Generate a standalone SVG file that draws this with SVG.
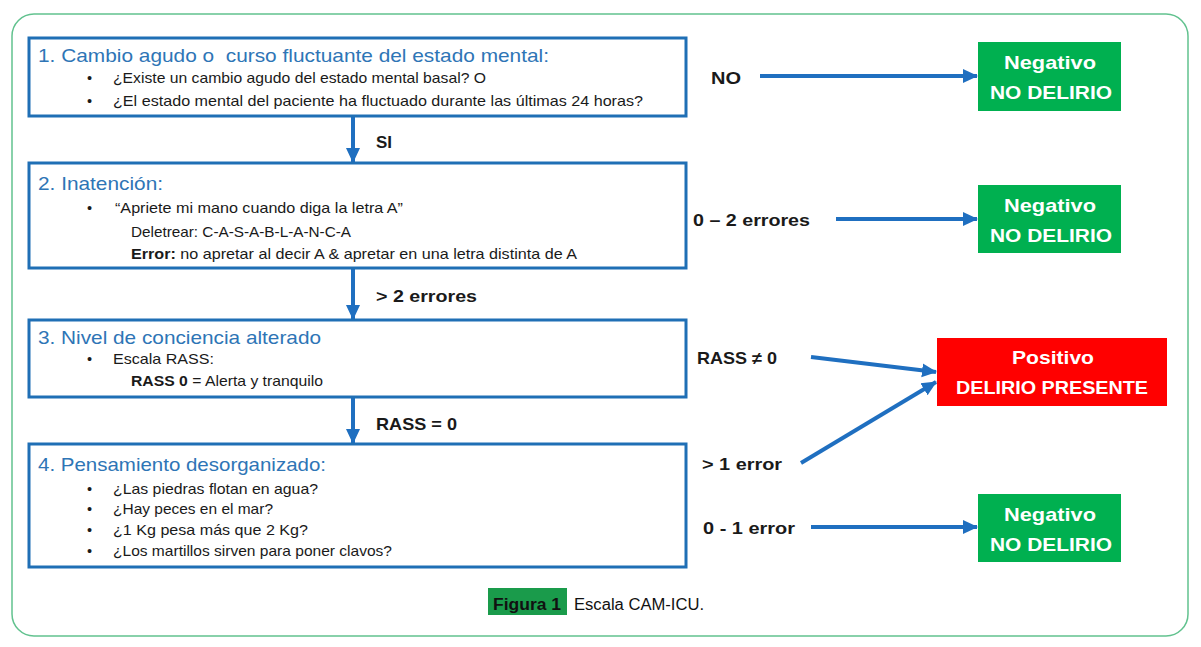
<svg xmlns="http://www.w3.org/2000/svg" width="1201" height="647" viewBox="0 0 1201 647">
<style>
.frame{fill:#fff;stroke:#62c28f;stroke-width:1.5}
.box{fill:#fff;stroke:#1f6fb5;stroke-width:3}
.title{font-family:"Liberation Sans",Arial,sans-serif;font-size:19px;fill:#2e75b6}
.txt{font-family:"Liberation Sans",Arial,sans-serif;font-size:14.5px;fill:#1a1a1a}
.b{font-weight:bold}
.lbl{font-family:"Liberation Sans",Arial,sans-serif;font-size:17px;font-weight:bold;fill:#1a1a1a}
.res{font-family:"Liberation Sans",Arial,sans-serif;font-size:19px;font-weight:bold;fill:#fff;text-anchor:middle}
.neg{fill:#00b050}
.pos{fill:#ff0000}
.arr{stroke:#1f6fc0;stroke-width:4;fill:none;marker-end:url(#ah)}
.cap{font-family:"Liberation Sans",Arial,sans-serif;font-size:16px;fill:#111}
</style>
<defs>
<marker id="ah" markerUnits="userSpaceOnUse" markerWidth="16" markerHeight="16" refX="14" refY="8" orient="auto">
<path d="M0,1 L15,8 L0,15 Z" fill="#1f6fc0"/>
</marker>
</defs>
<rect class="frame" x="12" y="14" width="1176" height="622" rx="22"/>

<g id="connectors">
<line class="arr" x1="353" y1="116" x2="353" y2="162"/>
<line class="arr" x1="353" y1="268" x2="353" y2="319"/>
<line class="arr" x1="353" y1="397" x2="353" y2="443"/>
<line class="arr" x1="760" y1="76" x2="977" y2="76"/>
<line class="arr" x1="836" y1="219" x2="977" y2="219"/>
<line class="arr" x1="811" y1="357" x2="936" y2="372"/>
<line class="arr" x1="801" y1="463" x2="936" y2="382"/>
<line class="arr" x1="811" y1="527" x2="977" y2="527"/>
<text class="lbl" x="376" y="148" textLength="16" lengthAdjust="spacingAndGlyphs">SI</text>
<text class="lbl" x="376" y="302" textLength="101" lengthAdjust="spacingAndGlyphs">&gt; 2 errores</text>
<text class="lbl" x="376" y="430" textLength="81" lengthAdjust="spacingAndGlyphs">RASS = 0</text>
<text class="lbl" x="711" y="84" textLength="30" lengthAdjust="spacingAndGlyphs">NO</text>
<text class="lbl" x="693" y="226" textLength="117" lengthAdjust="spacingAndGlyphs">0 – 2 errores</text>
<text class="lbl" x="697" y="364" textLength="80" lengthAdjust="spacingAndGlyphs">RASS ≠ 0</text>
<text class="lbl" x="702" y="470" textLength="80" lengthAdjust="spacingAndGlyphs">&gt; 1 error</text>
<text class="lbl" x="703" y="534" textLength="92" lengthAdjust="spacingAndGlyphs">0 - 1 error</text>
</g>

<g id="step1">
<rect class="box" x="29" y="38" width="657" height="78"/>
<text class="title" x="38" y="62" textLength="511" lengthAdjust="spacingAndGlyphs" xml:space="preserve">1. Cambio agudo o  curso fluctuante del estado mental:</text>
<text class="txt" x="87" y="83">•</text>
<text class="txt" x="113" y="83" textLength="373" lengthAdjust="spacingAndGlyphs">¿Existe un cambio agudo del estado mental basal? O</text>
<text class="txt" x="87" y="106">•</text>
<text class="txt" x="113" y="106" textLength="530" lengthAdjust="spacingAndGlyphs">¿El estado mental del paciente ha fluctuado durante las últimas 24 horas?</text>
</g>

<g id="step2">
<rect class="box" x="29" y="163" width="657" height="105"/>
<text class="title" x="38" y="190" textLength="125" lengthAdjust="spacingAndGlyphs">2. Inatención:</text>
<text class="txt" x="87" y="213">•</text>
<text class="txt" x="115" y="213" textLength="288" lengthAdjust="spacingAndGlyphs">“Apriete mi mano cuando diga la letra A”</text>
<text class="txt" x="131" y="237" textLength="220" lengthAdjust="spacingAndGlyphs">Deletrear: C-A-S-A-B-L-A-N-C-A</text>
<text class="txt" x="131" y="259" textLength="446" lengthAdjust="spacingAndGlyphs"><tspan class="b">Error:</tspan> no apretar al decir A &amp; apretar en una letra distinta de A</text>
</g>

<g id="step3">
<rect class="box" x="29" y="320" width="657" height="77"/>
<text class="title" x="38" y="344" textLength="283" lengthAdjust="spacingAndGlyphs">3. Nivel de conciencia alterado</text>
<text class="txt" x="87" y="364">•</text>
<text class="txt" x="113" y="364" textLength="101" lengthAdjust="spacingAndGlyphs">Escala RASS:</text>
<text class="txt" x="131" y="386" textLength="192" lengthAdjust="spacingAndGlyphs"><tspan class="b">RASS 0</tspan> = Alerta y tranquilo</text>
</g>

<g id="step4">
<rect class="box" x="29" y="444" width="657" height="123"/>
<text class="title" x="38" y="471" textLength="288" lengthAdjust="spacingAndGlyphs">4. Pensamiento desorganizado:</text>
<text class="txt" x="87" y="494">•</text>
<text class="txt" x="113" y="494" textLength="205" lengthAdjust="spacingAndGlyphs">¿Las piedras flotan en agua?</text>
<text class="txt" x="87" y="514">•</text>
<text class="txt" x="113" y="514" textLength="160" lengthAdjust="spacingAndGlyphs">¿Hay peces en el mar?</text>
<text class="txt" x="87" y="535">•</text>
<text class="txt" x="113" y="535" textLength="195" lengthAdjust="spacingAndGlyphs">¿1 Kg pesa más que 2 Kg?</text>
<text class="txt" x="87" y="556">•</text>
<text class="txt" x="113" y="556" textLength="279" lengthAdjust="spacingAndGlyphs">¿Los martillos sirven para poner clavos?</text>
</g>

<g id="neg1">
<rect class="neg" x="978" y="42" width="143" height="69"/>
<text class="res" x="1050" y="69" textLength="92" lengthAdjust="spacingAndGlyphs">Negativo</text>
<text class="res" x="1051" y="99" textLength="122" lengthAdjust="spacingAndGlyphs">NO DELIRIO</text>
</g>

<g id="neg2">
<rect class="neg" x="978" y="185" width="143" height="68"/>
<text class="res" x="1050" y="212" textLength="92" lengthAdjust="spacingAndGlyphs">Negativo</text>
<text class="res" x="1051" y="242" textLength="122" lengthAdjust="spacingAndGlyphs">NO DELIRIO</text>
</g>

<g id="pos">
<rect class="pos" x="937" y="338" width="230" height="68"/>
<text class="res" x="1053" y="364" textLength="82" lengthAdjust="spacingAndGlyphs">Positivo</text>
<text class="res" x="1052" y="394" textLength="192" lengthAdjust="spacingAndGlyphs">DELIRIO PRESENTE</text>
</g>

<g id="neg3">
<rect class="neg" x="978" y="494" width="143" height="68"/>
<text class="res" x="1050" y="521" textLength="92" lengthAdjust="spacingAndGlyphs">Negativo</text>
<text class="res" x="1051" y="551" textLength="122" lengthAdjust="spacingAndGlyphs">NO DELIRIO</text>
</g>

<g id="caption">
<rect x="488" y="588" width="79" height="27" fill="#1a9b4b"/>
<text class="cap b" x="493" y="610" textLength="68" lengthAdjust="spacingAndGlyphs">Figura 1</text>
<text class="cap" x="574" y="610" textLength="130" lengthAdjust="spacingAndGlyphs">Escala CAM-ICU.</text>
</g>
</svg>
